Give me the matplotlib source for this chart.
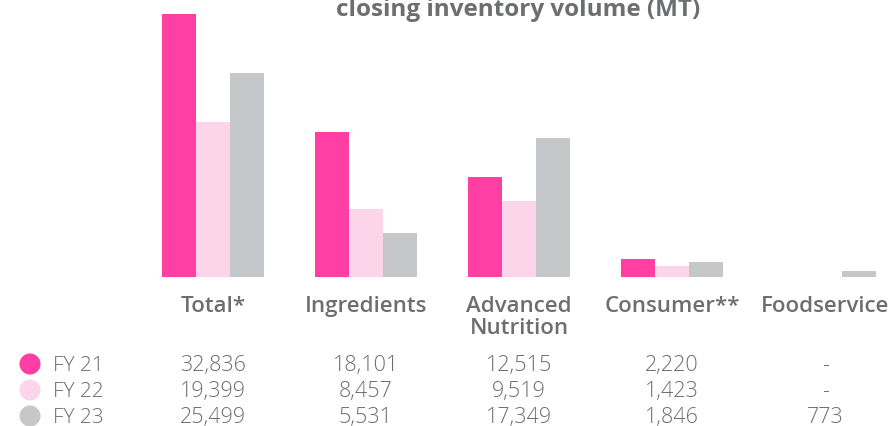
import numpy as np
import matplotlib.pyplot as plt

categories = ['Total*', 'Ingredients', 'Advanced\nNutrition', 'Consumer**', 'Foodservice']
series = ['FY 21', 'FY 22', 'FY 23']
fy21 = [32836, 18101, 12515, 2220, None]
fy22 = [19399, 8457, 9519, 1423, None]
fy23 = [25499, 5531, 17349, 1846, 773]

COLORS = ['#FF3FA4', '#FDD5EB', '#C6C7C9']
TEXT = '#6D6E71'
FONT = 'Open Sans'

W, H = 895, 426
fig = plt.figure(figsize=(W / 100, H / 100), dpi=100)
fig.patch.set_facecolor('white')

# bar area: baseline at y=277px, groups 153px apart, first group centred at x=213px
base_frac = (H - 277) / H
ax = fig.add_axes([0, base_frac, 1, 1 - base_frac])
spacing = 153
x0 = 213
ax.set_xlim(-x0 / spacing, (W - x0) / spacing)
ax.set_ylim(0, 277 / 0.00801)
ax.axis('off')

width = 34 / spacing
x = np.arange(len(categories))
for i, vals in enumerate([fy21, fy22, fy23]):
    heights = [v if v is not None else 0 for v in vals]
    ax.bar(x + (i - 1) * width, heights, width=width, color=COLORS[i], linewidth=0)

# overlay in pixel coordinates for the table
tx = fig.add_axes([0, 0, 1, 1])
tx.set_xlim(0, W)
tx.set_ylim(H, 0)
tx.axis('off')
tx.patch.set_alpha(0)

tx.text(518, 16, 'closing inventory volume (MT)', ha='center', va='baseline', fontsize=17.5,
        fontfamily=FONT, fontweight='bold', color=TEXT)

col_x = [x0 + i * spacing for i in range(len(categories))]
for cx, cat in zip(col_x, categories):
    for k, line in enumerate(cat.split('\n')):
        tx.text(cx, 312 + 22 * k, line, ha='center', va='baseline', fontsize=16, fontfamily=FONT,
                fontweight='semibold', color=TEXT)

row_y = [364, 390, 416]
for ry, name, color, vals in zip(row_y, series, COLORS, [fy21, fy22, fy23]):
    tx.scatter([30], [ry], s=230, color=color, edgecolors='none')
    tx.text(53, ry + 7, name, ha='left', va='baseline', fontsize=15, fontfamily=FONT,
            fontweight='light', color=TEXT)
    for cx, v in zip(col_x, vals):
        label = f'{v:,}' if v is not None else '-'
        tx.text(cx, ry + 7, label, ha='center', va='baseline', fontsize=15.5, fontfamily=FONT,
                fontweight='light', color=TEXT)

fig.savefig('out.png', dpi=100, facecolor='white')
